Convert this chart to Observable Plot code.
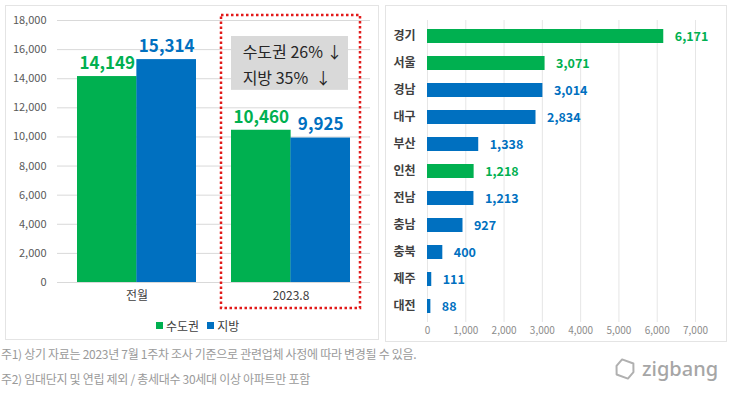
<!DOCTYPE html>
<html><head><meta charset="utf-8">
<script src="https://cdn.jsdelivr.net/npm/d3@7"></script>
<script src="https://cdn.jsdelivr.net/npm/@observablehq/plot@0.6"></script>
<style>
body{margin:0;background:#fff;font-family:"Noto Sans CJK KR","Noto Sans",sans-serif;}
#root{position:relative;width:730px;height:397px;overflow:hidden;background:#fff;}
.panel{position:absolute;border:1px solid #e4e4e4;box-sizing:border-box;}
.plot{position:absolute;}
#legend{position:absolute;left:156px;top:317px;font-size:12px;color:#404040;display:flex;align-items:center;gap:3px;}
#legend .sw{display:inline-block;width:7px;height:7px;margin-right:3px;}
#legend .item{display:flex;align-items:center;margin-right:5px;}
.note{position:absolute;left:1px;font-size:12px;color:#9a9a9a;letter-spacing:-0.3px;white-space:nowrap;}
#logo{position:absolute;left:613px;top:355px;display:flex;align-items:center;color:#a6a6a6;font-family:"Noto Sans",sans-serif;font-size:20px;font-weight:500;}
</style>
</head><body>
<div id="root">
  <div class="panel" style="left:5px;top:5px;width:374px;height:335px;"></div>
  <div class="panel" style="left:385px;top:5px;width:342px;height:337px;"></div>
  <div id="left" class="plot" style="left:5px;top:5px;"></div>
  <div id="legend"></div>
  <div id="right" class="plot" style="left:385px;top:5px;"></div>
  <div id="notes"></div>
  <div id="logo"><svg width="24" height="24" viewBox="0 0 24 24" style="margin-right:5px"><path d="M6 4 L18 4 L21 12 L18 20 L6 20 L3 12 Z" fill="none" stroke="#b0b0b0" stroke-width="2" stroke-linejoin="round" transform="rotate(20 12 12)"/></svg><span>zigbang</span></div>
</div>
<script>
// ---- data ----
const groups = ["전월", "2023.8"];
const capitalValues = [14149, 10460];
const regionalValues = [15314, 9925];
const seriesNames = ["수도권", "지방"];
const seriesColors = ["#00b050", "#0070c0"];
const leftTicks = [0, 2000, 4000, 6000, 8000, 10000, 12000, 14000, 16000, 18000];
const changeNotes = ["수도권 26% ↓", "지방 35%  ↓"];
const regions = ["경기", "서울", "경남", "대구", "부산", "인천", "전남", "충남", "충북", "제주", "대전"];
const regionValues = [6171, 3071, 3014, 2834, 1338, 1218, 1213, 927, 400, 111, 88];
const regionSeries = ["수도권", "수도권", "지방", "지방", "지방", "수도권", "지방", "지방", "지방", "지방", "지방"];
const rightTicks = [0, 1000, 2000, 3000, 4000, 5000, 6000, 7000];
const footnotes = [
  "주1) 상기 자료는 2023년 7월 1주차 조사 기준으로 관련업체 사정에 따라 변경될 수 있음.",
  "주2) 임대단지 및 연립 제외 / 총세대수 30세대 이상 아파트만 포함"
];

const color = d3.scaleOrdinal(seriesNames, seriesColors);
const font = '"Noto Sans CJK KR","Noto Sans",sans-serif';

// ---- left chart ----
const L = {width: 373, height: 305, marginLeft: 52, marginRight: 8, marginTop: 15, marginBottom: 28};
const xOpts = {domain: groups, paddingInner: 0.23, paddingOuter: 0.13};
const xs = d3.scaleBand(groups, [L.marginLeft, L.width - L.marginRight]).paddingInner(xOpts.paddingInner).paddingOuter(xOpts.paddingOuter);
const half = xs.bandwidth() / 2;

const rows = groups.flatMap((g, i) => [
  {group: g, series: seriesNames[0], value: capitalValues[i]},
  {group: g, series: seriesNames[1], value: regionalValues[i]}
]);
const noteRows = changeNotes.map((t, i) => ({group: groups[1], text: t, y: [15800, 14000][i]}));

const left = Plot.plot({
  ...L,
  style: {fontFamily: font, color: "#595959", background: "transparent"},
  x: {...xOpts, label: null},
  y: {domain: [0, 18000], label: null},
  marks: [
    Plot.gridY(leftTicks, {stroke: "#d9d9d9", strokeOpacity: 1}),
    Plot.axisY(leftTicks, {tickSize: 0, tickPadding: 11, fontSize: 11, tickFormat: d3.format(","), label: null}),
    Plot.axisX({tickSize: 0, tickPadding: 9, fontSize: 12, label: null}),
    Plot.barY(rows.filter(d => d.series === seriesNames[0]), {x: "group", y: "value", fill: seriesColors[0], insetRight: half}),
    Plot.barY(rows.filter(d => d.series === seriesNames[1]), {x: "group", y: "value", fill: seriesColors[1], insetLeft: half}),
    Plot.text(rows.filter(d => d.series === seriesNames[0]), {x: "group", y: "value", text: d => d3.format(",")(d.value), fill: seriesColors[0], fontSize: 17, fontWeight: "bold", dx: -half / 2, dy: -13}),
    Plot.text(rows.filter(d => d.series === seriesNames[1]), {x: "group", y: "value", text: d => d3.format(",")(d.value), fill: seriesColors[1], fontSize: 17, fontWeight: "bold", dx: half / 2, dy: -13}),
    Plot.barY([groups[1]], {x: d => d, y1: 13200, y2: 16900, fill: "#d9d9d9", insetRight: 2}),
    Plot.text(noteRows, {x: "group", y: "y", text: "text", textAnchor: "start", dx: -half + 11, fontSize: 16, fill: "#262626"}),
    Plot.barY([groups[1]], {x: d => d, y1: 0, y2: 18000, fill: "none", stroke: "#e21a1a", strokeWidth: 2.5, strokeDasharray: "2.5,2.5", insetLeft: -10, insetRight: -10, insetTop: -5, insetBottom: -26})
  ]
});
left.querySelectorAll('[aria-label="x-axis tick label"]').forEach(g => g.setAttribute("fill", "#404040"));
document.getElementById("left").appendChild(left);

// legend
const lg = document.getElementById("legend");
seriesNames.forEach((s, i) => {
  const it = document.createElement("span");
  it.className = "item";
  it.innerHTML = `<span class="sw" style="background:${seriesColors[i]}"></span>${s}`;
  lg.appendChild(it);
});

// ---- right chart ----
const rrows = regions.map((r, i) => ({region: r, value: regionValues[i], series: regionSeries[i]}));
const right = Plot.plot({
  width: 342, height: 337, marginLeft: 42, marginRight: 32, marginTop: 15, marginBottom: 20,
  style: {fontFamily: font, color: "#8c8c8c", background: "transparent"},
  x: {domain: [0, 7000], label: null},
  y: {domain: regions, paddingInner: 0.48, paddingOuter: 0.3, label: null},
  marks: [
    Plot.gridX(rightTicks, {stroke: "#e6e6e6", strokeOpacity: 1}),
    Plot.axisX(rightTicks, {tickSize: 0, tickPadding: 4, fontSize: 10, tickFormat: d3.format(","), label: null}),
    Plot.axisY({tickSize: 0, tickPadding: 12, fontSize: 12, fontWeight: "bold", label: null}),
    Plot.barX(rrows, {y: "region", x: "value", fill: d => color(d.series)}),
    Plot.text(rrows, {y: "region", x: "value", text: d => d3.format(",")(d.value), fill: d => color(d.series), textAnchor: "start", dx: 11, fontSize: 12.5, fontWeight: "bold"})
  ]
});
right.querySelectorAll('[aria-label="y-axis tick label"]').forEach(g => g.setAttribute("fill", "#404040"));
document.getElementById("right").appendChild(right);

// footnotes
const notes = document.getElementById("notes");
footnotes.forEach((t, i) => {
  const d = document.createElement("div");
  d.className = "note";
  d.style.top = (345 + i * 25) + "px";
  d.textContent = t;
  notes.appendChild(d);
});
</script>
</body></html>
